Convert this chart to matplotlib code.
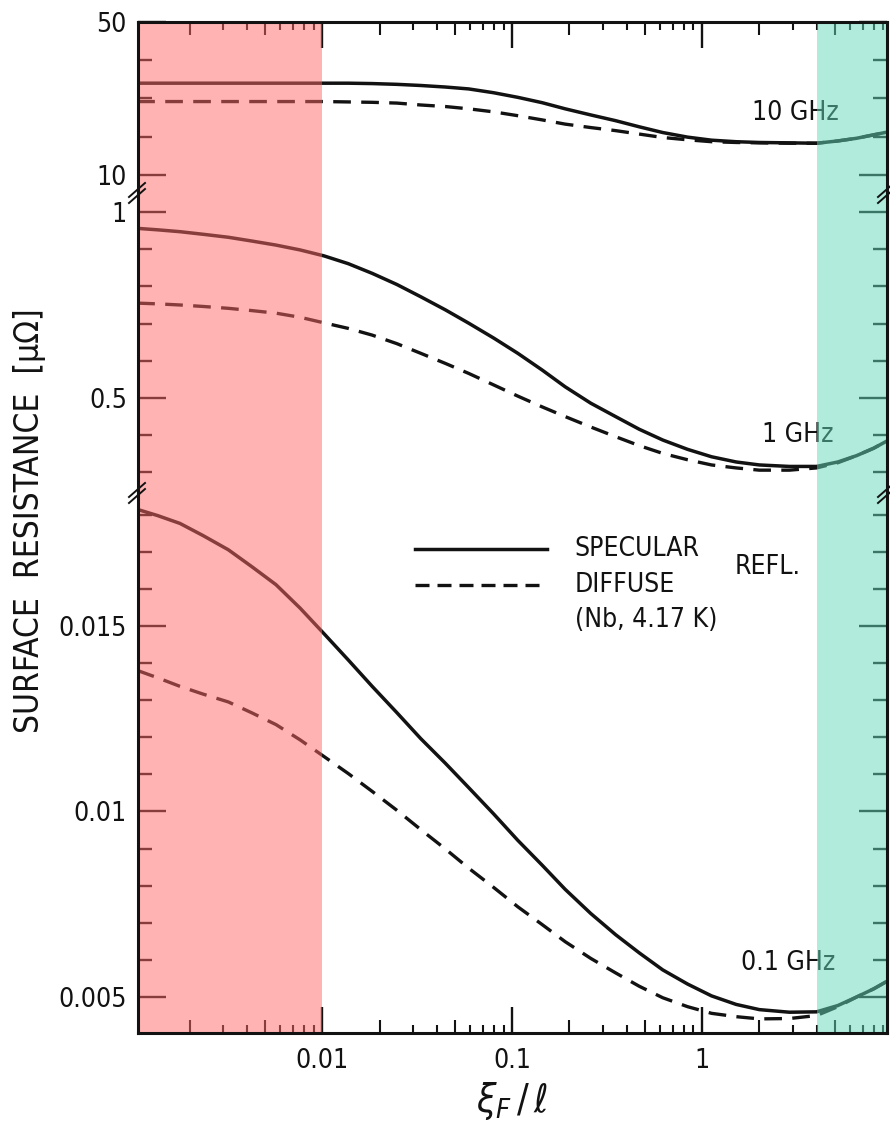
import numpy as np
import matplotlib
matplotlib.use('Agg')
import matplotlib.pyplot as plt
from matplotlib import font_manager
from matplotlib.lines import Line2D
from matplotlib.ticker import FixedLocator, FuncFormatter, LogLocator, NullLocator, NullFormatter

xi = [0.00106, 0.00136, 0.00178, 0.00236, 0.0032, 0.00424, 0.0057, 0.00763,
      0.0102, 0.0137, 0.0183, 0.0247, 0.033, 0.0444, 0.059, 0.0799,
      0.107, 0.1438, 0.19, 0.259, 0.35, 0.466, 0.62, 0.837,
      1.12, 1.51, 2.0, 2.88, 4.0, 5.18, 6.5, 8.0, 9.6]

# surface resistance [micro-ohm], specular / diffuse reflection
spec_10g = [34.0, 34.0, 34.0, 34.0, 34.0, 34.0, 34.0, 34.0,
            34.0, 34.0, 33.9, 33.7, 33.4, 33.0, 32.5, 31.5,
            30.3, 28.9, 27.3, 25.7, 24.2, 22.6, 21.1, 19.9,
            19.1, 18.7, 18.5, 18.4, 18.3, 18.9, 19.6, 20.5, 21.3]
diff_10g = [29.2, 29.2, 29.2, 29.2, 29.2, 29.2, 29.2, 29.2,
            29.2, 29.1, 29.0, 28.8, 28.3, 27.9, 27.3, 26.5,
            25.5, 24.4, 23.3, 22.4, 21.6, 20.7, 19.8, 19.2,
            18.7, 18.5, 18.4, 18.3, 18.3, 18.9, 19.6, 20.5, 21.3]
spec_1g = [0.956, 0.952, 0.947, 0.940, 0.932, 0.922, 0.911, 0.898,
           0.882, 0.861, 0.835, 0.805, 0.772, 0.737, 0.701, 0.661,
           0.620, 0.575, 0.530, 0.486, 0.450, 0.416, 0.387, 0.362,
           0.342, 0.328, 0.320, 0.316, 0.316, 0.328, 0.345, 0.365, 0.387]
diff_1g = [0.755, 0.753, 0.750, 0.746, 0.741, 0.735, 0.728, 0.717,
           0.702, 0.687, 0.669, 0.646, 0.620, 0.593, 0.566, 0.535,
           0.505, 0.476, 0.450, 0.422, 0.396, 0.372, 0.351, 0.334,
           0.320, 0.312, 0.306, 0.306, 0.312, 0.326, 0.345, 0.365, 0.387]
spec_01g = [0.01814, 0.01797, 0.01776, 0.01743, 0.01705, 0.01660, 0.01611, 0.01548,
            0.01479, 0.01408, 0.01337, 0.01266, 0.01196, 0.01130, 0.01064, 0.00993,
            0.00922, 0.00855, 0.00790, 0.00725, 0.00668, 0.00619, 0.00573, 0.00535,
            0.00503, 0.00480, 0.00466, 0.00459, 0.00460, 0.00477, 0.00500, 0.00522,
            0.00545]
diff_01g = [0.01380, 0.01360, 0.01337, 0.01316, 0.01295, 0.01266, 0.01234, 0.01193,
            0.01148, 0.01102, 0.01054, 0.01003, 0.00951, 0.00899, 0.00847, 0.00795,
            0.00743, 0.00695, 0.00649, 0.00604, 0.00565, 0.00529, 0.00498, 0.00474,
            0.00456, 0.00447, 0.00441, 0.00442, 0.00450, 0.00474, 0.00500, 0.00522,
            0.00545]

# y ranges and ticks of the three broken panels
panels = [
    dict(ylim=(5.29, 50.0), major=[10, 50], minor=[20, 30, 40],
         spec=spec_10g, diff=diff_10g, label='10 GHz', lab_pos=(0.82, 0.47)),
    dict(ylim=(0.2446, 1.051), major=[0.5, 1.0], minor=[0.3, 0.4, 0.6, 0.7, 0.8, 0.9],
         spec=spec_1g, diff=diff_1g, label='1 GHz', lab_pos=(0.833, 0.195)),
    dict(ylim=(0.00403, 0.01858), major=[0.005, 0.01, 0.015],
         minor=[0.006, 0.007, 0.008, 0.009, 0.011, 0.012, 0.013, 0.014,
                0.016, 0.017, 0.018],
         spec=spec_01g, diff=diff_01g, label='0.1 GHz', lab_pos=(0.805, 0.13)),
]

xlim = (0.00107, 9.4)
red_edge = 0.01
green_edge = 4.0

# pick a narrow font if there is one
names = {f.name for f in font_manager.fontManager.ttflist}
if 'Liberation Sans Narrow' in names:
    fam, stretch, fs = 'Liberation Sans Narrow', 'normal', 21
else:
    fam, stretch, fs = 'DejaVu Sans', 'condensed', 19
plt.rcParams['font.family'] = [fam, 'DejaVu Sans']
plt.rcParams['font.stretch'] = stretch
plt.rcParams['mathtext.fontset'] = 'dejavusans'

ink = '#121212'
pink = '#ff6868'
teal = '#62d9b9'

W, H = 890, 1131
fig = plt.figure(figsize=(W / 100, H / 100), dpi=100)
L, R = 138 / W, 887 / W
ys = [1 - 22 / H, 1 - 193 / H, 1 - 493 / H, 1 - 1033 / H]
axes = []
for i in range(3):
    kw = {} if i == 0 else {'sharex': axes[0]}
    ax = fig.add_axes([L, ys[i + 1], R - L, ys[i] - ys[i + 1]], **kw)
    axes.append(ax)

fmt = FuncFormatter(lambda v, p: '{:g}'.format(v))
dash = (0, (5.3, 3.1))

for i, (ax, p) in enumerate(zip(axes, panels)):
    ax.set_xscale('log')
    ax.set_xlim(*xlim)
    ax.set_ylim(*p['ylim'])
    ax.plot(xi, p['spec'], color=ink, lw=2.5)
    ax.plot(xi, p['diff'], color=ink, lw=2.4, linestyle=dash)
    ax.text(p['lab_pos'][0], p['lab_pos'][1], p['label'], transform=ax.transAxes,
            ha='left', va='center', fontsize=fs, color=ink)

    # shaded regions, on top so the ink takes their tint
    ax.axvspan(xlim[0], red_edge, color=pink, alpha=0.5, lw=0, zorder=3)
    ax.axvspan(green_edge, xlim[1], color=teal, alpha=0.5, lw=0, zorder=3)

    ax.yaxis.set_major_locator(FixedLocator(p['major']))
    ax.yaxis.set_minor_locator(FixedLocator(p['minor']))
    ax.yaxis.set_major_formatter(fmt)
    ax.tick_params(axis='y', which='both', direction='in', left=True, right=True,
                   colors=ink, labelsize=fs, pad=8)
    ax.tick_params(axis='y', which='major', length=20, width=1.7)
    ax.tick_params(axis='y', which='minor', length=10, width=1.7)

    for s in ax.spines.values():
        s.set_linewidth(2.2)
        s.set_color(ink)
        s.set_zorder(5)
    if i > 0:
        ax.spines['top'].set_visible(False)
    if i < 2:
        ax.spines['bottom'].set_visible(False)

# x axis: decades long, 2 and 5 medium, rest short
ax0 = axes[0]
ax0.xaxis.set_major_locator(LogLocator(base=10, numticks=20))
ax0.xaxis.set_minor_locator(LogLocator(base=10, subs=(3, 4, 6, 7, 8, 9), numticks=20))
ax0.xaxis.set_major_formatter(fmt)
ax0.xaxis.set_minor_formatter(NullFormatter())
mid_ticks = [0.002, 0.005, 0.02, 0.05, 0.2, 0.5, 2, 5]

for ax, side in [(axes[0], 'top'), (axes[1], None), (axes[2], 'bottom')]:
    if side is None:
        ax.tick_params(axis='x', which='both', bottom=False, top=False,
                       labelbottom=False, labeltop=False)
        continue
    ax.tick_params(axis='x', which='both', direction='in', colors=ink,
                   bottom=(side == 'bottom'), top=(side == 'top'),
                   labelbottom=(side == 'bottom'), labeltop=False,
                   labelsize=fs, pad=11)
    ax.tick_params(axis='x', which='major', length=19, width=1.7)
    ax.tick_params(axis='x', which='minor', length=5.5, width=1.5)
    sec = ax.secondary_xaxis(side)
    sec.set_xticks(mid_ticks)
    sec.xaxis.set_minor_locator(NullLocator())
    sec.tick_params(axis='x', which='major', direction='in', length=9.5, width=1.5,
                    colors=ink, labelbottom=False, labeltop=False)
    for s in sec.spines.values():
        s.set_visible(False)

axb = axes[2]
axb.set_xlabel(r'$\xi_F\,/\,\ell$', fontsize=28, color=ink)
axb.xaxis.set_label_coords(0.5, -0.125)
axb.xaxis.label.set_va('center')

fig.text(30 / W, 1 - 521 / H, 'SURFACE  RESISTANCE  [μΩ]', rotation=90,
         ha='center', va='center', fontsize=fs + 5, color=ink)

# legend, drawn by hand like in the original
axb.add_line(Line2D([0.370, 0.546], [0.896, 0.896], transform=axb.transAxes,
                    color=ink, lw=2.5))
axb.add_line(Line2D([0.370, 0.546], [0.830, 0.830], transform=axb.transAxes,
                    color=ink, lw=2.4, linestyle=(0, (4.2, 2.4))))
axb.text(0.583, 0.896, 'SPECULAR', transform=axb.transAxes, ha='left', va='center',
         fontsize=fs, color=ink)
axb.text(0.583, 0.830, 'DIFFUSE', transform=axb.transAxes, ha='left', va='center',
         fontsize=fs, color=ink)
axb.text(0.583, 0.765, '(Nb, 4.17 K)', transform=axb.transAxes, ha='left', va='center',
         fontsize=fs, color=ink)
axb.text(0.797, 0.863, 'REFL.', transform=axb.transAxes, ha='left', va='center',
         fontsize=fs, color=ink)

# axis break marks on both spines
for xp in (138, 887):
    for yp in (193, 493):
        for dy in (-3, 3):
            fig.add_artist(Line2D([(xp - 9) / W, (xp + 7) / W],
                                  [1 - (yp + dy + 7) / H, 1 - (yp + dy - 7) / H],
                                  color=ink, lw=1.4))

fig.savefig('out.png', dpi=100)
